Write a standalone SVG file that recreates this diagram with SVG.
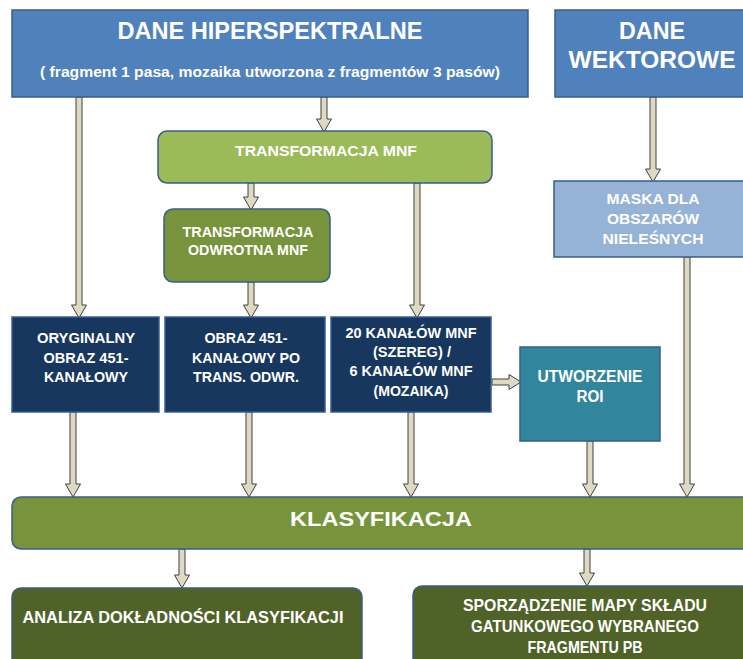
<svg xmlns="http://www.w3.org/2000/svg" width="743" height="659" viewBox="0 0 743 659">
<style>
.t{font-family:"Liberation Sans",Arial,sans-serif;font-weight:bold;fill:#ffffff;text-anchor:middle}
.box{stroke:#385d8a;stroke-width:1.5}
.arr{fill:#ddd9c3;stroke:#404040;stroke-width:1;stroke-linejoin:miter}
</style>
<rect width="743" height="659" fill="#ffffff"/>
<g id="connectors">
<path class="arr" d="M76 97 L82 97 L82 305 L86.5 305 L79 318 L71.5 305 L76 305 Z"/>
<path class="arr" d="M321 97 L327 97 L327 119 L331.5 119 L324 132 L316.5 119 L321 119 Z"/>
<path class="arr" d="M248 183 L254 183 L254 197 L258.5 197 L251 210 L243.5 197 L248 197 Z"/>
<path class="arr" d="M248 282 L254 282 L254 305 L258.5 305 L251 318 L243.5 305 L248 305 Z"/>
<path class="arr" d="M414 183 L420 183 L420 305 L424.5 305 L417 318 L409.5 305 L414 305 Z"/>
<path class="arr" d="M650 97 L656 97 L656 169 L660.5 169 L653 182 L645.5 169 L650 169 Z"/>
<path class="arr" d="M492 379 L509 379 L509 374.5 L521 382 L509 389.5 L509 385 L492 385 Z"/>
<path class="arr" d="M70 412 L76 412 L76 484 L80.5 484 L73 497 L65.5 484 L70 484 Z"/>
<path class="arr" d="M246 412 L252 412 L252 484 L256.5 484 L249 497 L241.5 484 L246 484 Z"/>
<path class="arr" d="M408 412 L414 412 L414 484 L418.5 484 L411 497 L403.5 484 L408 484 Z"/>
<path class="arr" d="M587 441 L593 441 L593 484 L597.5 484 L590 497 L582.5 484 L587 484 Z"/>
<path class="arr" d="M684 257 L690 257 L690 484 L694.5 484 L687 497 L679.5 484 L684 484 Z"/>
<path class="arr" d="M179 549 L185 549 L185 575 L189.5 575 L182 588 L174.5 575 L179 575 Z"/>
<path class="arr" d="M584 549 L590 549 L590 573 L594.5 573 L587 586 L579.5 573 L584 573 Z"/>
</g>
<g id="dane-hiperspektralne">
<rect class="box" x="12" y="10" width="516" height="87" fill="#4f81bd"/>
<text class="t" x="270" y="39" font-size="23" textLength="305" lengthAdjust="spacingAndGlyphs">DANE HIPERSPEKTRALNE</text>
<text class="t" x="270" y="77" font-size="14.5" textLength="460" lengthAdjust="spacingAndGlyphs">( fragment 1 pasa, mozaika utworzona z fragmentów 3 pasów)</text>
</g>
<g id="dane-wektorowe">
<rect class="box" x="555" y="10" width="195" height="87" fill="#4f81bd"/>
<text class="t" x="652" y="39" font-size="23" textLength="66" lengthAdjust="spacingAndGlyphs">DANE</text>
<text class="t" x="652" y="68" font-size="23" textLength="167" lengthAdjust="spacingAndGlyphs">WEKTOROWE</text>
</g>
<g id="transformacja-mnf">
<rect class="box" x="158" y="131" width="334" height="52" rx="9" fill="#9bbb59"/>
<text class="t" x="326" y="156" font-size="14" textLength="182" lengthAdjust="spacingAndGlyphs">TRANSFORMACJA MNF</text>
</g>
<g id="transformacja-odwrotna">
<rect class="box" x="164" y="209" width="166" height="73" rx="9" fill="#77933c"/>
<text class="t" x="248" y="237" font-size="14" textLength="131" lengthAdjust="spacingAndGlyphs">TRANSFORMACJA</text>
<text class="t" x="248" y="255" font-size="14" textLength="120" lengthAdjust="spacingAndGlyphs">ODWROTNA MNF</text>
</g>
<g id="maska">
<rect class="box" x="554" y="181" width="196" height="76" fill="#95b3d7"/>
<text class="t" x="653" y="204" font-size="15" textLength="93" lengthAdjust="spacingAndGlyphs">MASKA DLA</text>
<text class="t" x="653" y="224" font-size="15" textLength="92" lengthAdjust="spacingAndGlyphs">OBSZARÓW</text>
<text class="t" x="653" y="244" font-size="15" textLength="101" lengthAdjust="spacingAndGlyphs">NIELEŚNYCH</text>
</g>
<g id="oryginalny">
<rect class="box" x="12" y="317" width="147" height="95" fill="#17375e"/>
<text class="t" x="86" y="343" font-size="15" textLength="98" lengthAdjust="spacingAndGlyphs">ORYGINALNY</text>
<text class="t" x="86" y="363" font-size="15" textLength="85" lengthAdjust="spacingAndGlyphs">OBRAZ 451-</text>
<text class="t" x="86" y="382" font-size="15" textLength="84" lengthAdjust="spacingAndGlyphs">KANAŁOWY</text>
</g>
<g id="obraz-po-trans">
<rect class="box" x="165" y="317" width="160" height="95" fill="#17375e"/>
<text class="t" x="246" y="343" font-size="15" textLength="83" lengthAdjust="spacingAndGlyphs">OBRAZ 451-</text>
<text class="t" x="246" y="363" font-size="15" textLength="108" lengthAdjust="spacingAndGlyphs">KANAŁOWY PO</text>
<text class="t" x="246" y="382" font-size="15" textLength="106" lengthAdjust="spacingAndGlyphs">TRANS. ODWR.</text>
</g>
<g id="kanaly-mnf">
<rect class="box" x="331" y="317" width="160" height="95" fill="#17375e"/>
<text class="t" x="411" y="338" font-size="14.5" textLength="131" lengthAdjust="spacingAndGlyphs">20 KANAŁÓW MNF</text>
<text class="t" x="412" y="357" font-size="14.5" textLength="78" lengthAdjust="spacingAndGlyphs">(SZEREG) /</text>
<text class="t" x="411" y="376" font-size="14.5" textLength="123" lengthAdjust="spacingAndGlyphs">6 KANAŁÓW MNF</text>
<text class="t" x="411" y="396" font-size="14.5" textLength="75" lengthAdjust="spacingAndGlyphs">(MOZAIKA)</text>
</g>
<g id="utworzenie-roi">
<rect class="box" x="520" y="347" width="140" height="94" fill="#31859c"/>
<text class="t" x="590" y="382" font-size="16" textLength="105" lengthAdjust="spacingAndGlyphs">UTWORZENIE</text>
<text class="t" x="590" y="402" font-size="16" textLength="27" lengthAdjust="spacingAndGlyphs">ROI</text>
</g>
<g id="klasyfikacja">
<rect class="box" x="12" y="497" width="745" height="52" rx="9" fill="#77933c"/>
<text class="t" x="381" y="526" font-size="21" textLength="182" lengthAdjust="spacingAndGlyphs">KLASYFIKACJA</text>
</g>
<g id="analiza">
<rect class="box" x="12" y="588" width="350" height="90" rx="9" fill="#4f6228"/>
<text class="t" x="183" y="623" font-size="16.5" textLength="321" lengthAdjust="spacingAndGlyphs">ANALIZA DOKŁADNOŚCI KLASYFIKACJI</text>
</g>
<g id="sporzadzenie">
<rect class="box" x="413" y="586" width="345" height="92" rx="9" fill="#4f6228"/>
<text class="t" x="585" y="611" font-size="16.5" textLength="244" lengthAdjust="spacingAndGlyphs">SPORZĄDZENIE MAPY SKŁADU</text>
<text class="t" x="585" y="632" font-size="16.5" textLength="228" lengthAdjust="spacingAndGlyphs">GATUNKOWEGO WYBRANEGO</text>
<text class="t" x="585" y="653" font-size="16.5" textLength="115" lengthAdjust="spacingAndGlyphs">FRAGMENTU PB</text>
</g>
</svg>
